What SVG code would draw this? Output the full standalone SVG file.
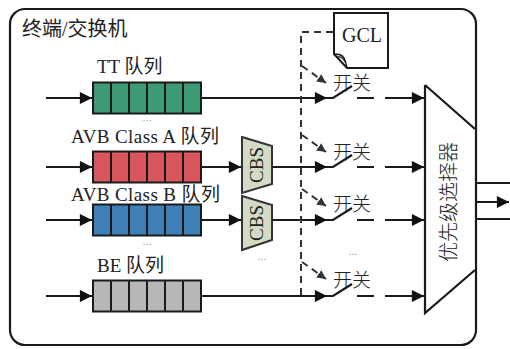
<svg xmlns="http://www.w3.org/2000/svg" width="510" height="349" viewBox="0 0 510 349">
  <style>
    .lbl { font-family: "Liberation Serif", "Noto Sans CJK SC", serif; font-size: 19px; fill: #222; }
    .cjk { font-family: "Noto Sans CJK SC", sans-serif; font-weight: 300; fill: #222; }
    .ln { stroke: #1a1a1a; stroke-width: 2.2; fill: none; }
    .dash { stroke: #333; stroke-width: 2; fill: none; stroke-dasharray: 7 5; }
    .q { stroke: #1a1a1a; stroke-width: 2; }
    .cell { stroke: #1a1a1a; stroke-width: 2; }
    .cbs { fill: #d3dbc5; stroke: #333; stroke-width: 2; }
    .dots { font-family: "Liberation Sans", sans-serif; font-size: 11px; fill: #999; text-anchor: middle; }
  </style>
  <defs>
    <marker id="ah" viewBox="0 0 10 10" refX="10" refY="5" markerWidth="6.5" markerHeight="5.5" orient="auto" markerUnits="strokeWidth">
      <path d="M0,0 L10,5 L0,10 Z" fill="#111"/>
    </marker>
    <marker id="ahd" viewBox="0 0 10 10" refX="10" refY="5" markerWidth="4.5" markerHeight="4.5" orient="auto" markerUnits="strokeWidth">
      <path d="M0,0 L10,5 L0,10 Z" fill="#333"/>
    </marker>
    <g id="cells">
      <line x1="111" y1="0" x2="111" y2="31" class="cell"/>
      <line x1="129" y1="0" x2="129" y2="31" class="cell"/>
      <line x1="147" y1="0" x2="147" y2="31" class="cell"/>
      <line x1="165" y1="0" x2="165" y2="31" class="cell"/>
      <line x1="183" y1="0" x2="183" y2="31" class="cell"/>
    </g>
  </defs>

  <rect width="510" height="349" fill="#fff"/>

  <!-- switch / end-station frame -->
  <g id="frame">
    <rect x="10" y="9" width="466" height="336" rx="15" ry="15" fill="none" stroke="#1a1a1a" stroke-width="2.2"/>
    <text x="22" y="36" class="lbl" style="font-size:20px">终端/交换机</text>
  </g>

  <!-- queues -->
  <g id="tt-queue">
    <text x="97" y="73" class="lbl">TT 队列</text>
    <rect x="93" y="82.5" width="108" height="31" fill="#3d9a74" class="q"/>
    <use href="#cells" transform="translate(0,82.5)"/>
  </g>
  <g id="avb-a-queue">
    <text x="71" y="143" class="lbl" textLength="148" lengthAdjust="spacing">AVB Class A 队列</text>
    <rect x="93" y="151.5" width="108" height="31" fill="#d8555b" class="q"/>
    <use href="#cells" transform="translate(0,151.5)"/>
  </g>
  <g id="avb-b-queue">
    <text x="71" y="201" class="lbl" textLength="149" lengthAdjust="spacing">AVB Class B 队列</text>
    <rect x="93" y="204.5" width="108" height="31" fill="#3f80b6" class="q"/>
    <use href="#cells" transform="translate(0,204.5)"/>
  </g>
  <g id="be-queue">
    <text x="97" y="272" class="lbl">BE 队列</text>
    <rect x="93" y="280.5" width="108" height="31" fill="#b7b7b7" class="q"/>
    <use href="#cells" transform="translate(0,280.5)"/>
  </g>

  <!-- credit based shapers -->
  <g id="cbs-a">
    <path d="M242,137 L272,146 L272,184 L242,193 Z" class="cbs"/>
    <text class="lbl" text-anchor="middle" transform="translate(263,165) rotate(-90)">CBS</text>
  </g>
  <g id="cbs-b">
    <path d="M242,196 L272,205 L272,240 L242,250 Z" class="cbs"/>
    <text class="lbl" text-anchor="middle" transform="translate(263,223) rotate(-90)">CBS</text>
  </g>

  <!-- gate control list -->
  <g id="gcl">
    <path d="M334,13 H388 V68 H347 L334,54 Z" fill="#fff" stroke="#1a1a1a" stroke-width="2"/>
    <path d="M334,54 Q342,54 344,58 Q346,62 347,68" fill="none" stroke="#1a1a1a" stroke-width="1.5"/>
    <path d="M337,57 Q343,56 345,62" fill="none" stroke="#1a1a1a" stroke-width="1.2"/>
    <text x="362" y="42" class="lbl" text-anchor="middle" style="font-size:20px">GCL</text>
  </g>

  <!-- gate switches -->
  <g id="gate-1">
    <text x="333" y="90" class="cjk" font-size="19">开关</text>
  </g>
  <g id="gate-2">
    <text x="333" y="159" class="cjk" font-size="19">开关</text>
  </g>
  <g id="gate-3">
    <text x="333" y="211" class="cjk" font-size="19">开关</text>
  </g>
  <g id="gate-4">
    <text x="333" y="287" class="cjk" font-size="19">开关</text>
  </g>

  <!-- strict priority selector -->
  <g id="selector">
    <path d="M425,85 L475,129 M475,270 L425,313 L425,85" fill="none" stroke="#1a1a1a" stroke-width="2.2"/>
    <text class="cjk" font-size="20" text-anchor="middle" transform="translate(456,202) rotate(-90)">优先级选择器</text>
  </g>

  <!-- ellipsis marks -->
  <g id="ellipses">
    <text x="147" y="121" class="dots">...</text>
    <text x="147" y="245" class="dots">...</text>
    <text x="262" y="260" class="dots">...</text>
    <text x="353" y="255" class="dots">...</text>
  </g>

  <!-- connectors -->
  <g id="connectors">
    <!-- ingress -->
    <line x1="46" y1="98" x2="92" y2="98" class="ln" marker-end="url(#ah)"/>
    <line x1="46" y1="167" x2="92" y2="167" class="ln" marker-end="url(#ah)"/>
    <line x1="46" y1="220" x2="92" y2="220" class="ln" marker-end="url(#ah)"/>
    <line x1="46" y1="296" x2="92" y2="296" class="ln" marker-end="url(#ah)"/>

    <!-- queues to shapers -->
    <line x1="201" y1="167" x2="241" y2="167" class="ln" marker-end="url(#ah)"/>
    <line x1="201" y1="220" x2="241" y2="220" class="ln" marker-end="url(#ah)"/>

    <!-- into gates -->
    <line x1="201" y1="98" x2="327" y2="98" class="ln" marker-end="url(#ah)"/>
    <line x1="272" y1="167" x2="327" y2="167" class="ln" marker-end="url(#ah)"/>
    <line x1="272" y1="220" x2="327" y2="220" class="ln" marker-end="url(#ah)"/>
    <line x1="201" y1="296" x2="327" y2="296" class="ln" marker-end="url(#ah)"/>

    <!-- open gate blades and outputs -->
    <path d="M326,98 H333 L352,86 M357,98 H374" class="ln" stroke-width="2"/>
    <line x1="385" y1="98" x2="424" y2="98" class="ln" marker-end="url(#ah)"/>
    <path d="M326,167 H333 L352,155 M357,167 H374" class="ln" stroke-width="2"/>
    <line x1="385" y1="167" x2="424" y2="167" class="ln" marker-end="url(#ah)"/>
    <path d="M326,220 H333 L352,208 M357,220 H374" class="ln" stroke-width="2"/>
    <line x1="385" y1="220" x2="424" y2="220" class="ln" marker-end="url(#ah)"/>
    <path d="M326,296 H333 L352,284 M357,296 H374" class="ln" stroke-width="2"/>
    <line x1="385" y1="296" x2="424" y2="296" class="ln" marker-end="url(#ah)"/>

    <!-- gate control -->
    <path d="M333,32 H301 V296" class="dash"/>
    <path d="M302,66 L326,83" class="dash" stroke-dasharray="5 4" marker-end="url(#ahd)"/>
    <path d="M302,135 L326,152" class="dash" stroke-dasharray="5 4" marker-end="url(#ahd)"/>
    <path d="M302,189 L326,206" class="dash" stroke-dasharray="5 4" marker-end="url(#ahd)"/>
    <path d="M302,262 L326,279" class="dash" stroke-dasharray="5 4" marker-end="url(#ahd)"/>

    <!-- egress -->
    <line x1="476" y1="183" x2="510" y2="183" class="ln"/>
    <line x1="476" y1="202" x2="509" y2="202" class="ln" marker-end="url(#ah)"/>
    <line x1="476" y1="219" x2="510" y2="219" class="ln"/>
  </g>
</svg>
